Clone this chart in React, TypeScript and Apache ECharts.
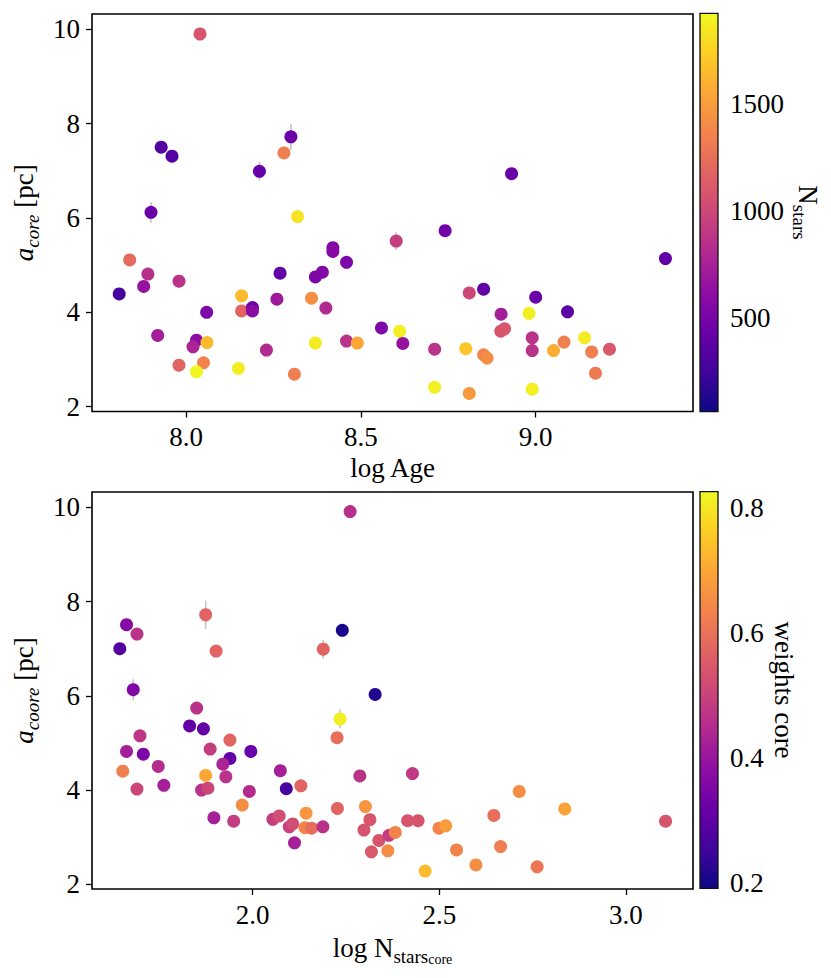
import React, { useEffect, useRef } from "react";
import * as echarts from "echarts";

// ---------- Top panel: log Age vs a_core, coloured by N_stars ----------
const ageLogAge = [
  8.040, 8.300, 7.929, 7.960, 8.280, 8.210, 7.900, 8.319, 8.420, 8.420,
  8.459, 7.839, 7.891, 7.879, 7.980, 7.809, 8.269, 8.370, 8.390, 8.159,
  8.159, 8.190, 8.190, 8.260, 8.359, 8.400, 8.059, 8.559, 7.919, 8.030,
  8.020, 8.060, 8.370, 8.459, 8.490, 8.230, 7.980, 8.050, 8.030, 8.150,
  8.310, 8.601, 8.931, 8.741, 9.371, 8.810, 8.851, 9.000, 9.091, 8.901,
  8.981, 8.611, 8.620, 8.900, 8.911, 8.990, 8.990, 8.711, 8.800, 8.851,
  8.861, 9.051, 9.081, 9.140, 9.160, 9.211, 9.171, 8.711, 8.810, 8.990,
];
const ageACore = [
  9.90, 7.72, 7.50, 7.31, 7.38, 6.99, 6.12, 6.03, 5.37, 5.29,
  5.06, 5.11, 4.81, 4.55, 4.66, 4.39, 4.83, 4.75, 4.85, 4.35,
  4.03, 4.10, 4.03, 4.28, 4.30, 4.09, 4.00, 3.67, 3.51, 3.41,
  3.27, 3.36, 3.35, 3.39, 3.35, 3.20, 2.88, 2.93, 2.74, 2.81,
  2.69, 5.51, 6.94, 5.73, 5.14, 4.41, 4.49, 4.32, 4.01, 3.96,
  3.98, 3.60, 3.34, 3.60, 3.65, 3.46, 3.19, 3.22, 3.23, 3.10,
  3.03, 3.19, 3.37, 3.46, 3.16, 3.22, 2.71, 2.41, 2.28, 2.37,
];
const ageNstars = [
  1088, 436, 343, 343, 1330, 418, 436, 1832, 548, 585,
  529, 1218, 846, 660, 864, 287, 399, 529, 548, 1646,
  1181, 436, 604, 697, 1423, 808, 529, 548, 734, 622,
  771, 1646, 1869, 864, 1553, 808, 1181, 1367, 1906, 1888,
  1330, 939, 436, 473, 399, 994, 399, 436, 362, 734,
  1888, 1888, 660, 1088, 1088, 864, 864, 864, 1702, 1367,
  1423, 1590, 1330, 1869, 1330, 1106, 1311, 1888, 1478, 1888,
];
const ageErr = [
  0, 0.28, 0, 0, 0, 0.2, 0.22, 0, 0, 0.12,
  0, 0, 0, 0, 0, 0, 0, 0, 0, 0,
  0, 0, 0, 0, 0, 0, 0, 0, 0, 0,
  0, 0, 0, 0, 0, 0, 0, 0, 0, 0,
  0, 0.19, 0, 0, 0, 0, 0, 0, 0, 0,
  0, 0, 0, 0, 0, 0, 0, 0, 0, 0,
  0, 0, 0, 0, 0, 0, 0, 0, 0, 0,
];

// ---------- Bottom panel: log N_stars_core vs a_core, coloured by weights core ----------
const coreLogN = [
  2.261, 1.874, 1.662, 1.690, 1.644, 1.902, 2.240, 2.189, 1.680, 2.328,
  2.234, 2.226, 1.850, 1.831, 1.868, 1.698, 1.662, 1.707, 1.747, 1.652,
  1.690, 1.762, 1.939, 1.886, 1.995, 1.939, 1.920, 1.928, 1.874, 1.863,
  1.880, 1.991, 2.074, 2.090, 2.129, 1.972, 1.896, 1.949, 2.054, 2.071,
  2.098, 2.107, 2.143, 2.140, 2.158, 2.188, 2.112, 2.227, 2.287, 2.302,
  2.314, 2.298, 2.338, 2.318, 2.365, 2.362, 2.428, 2.415, 2.443, 2.382,
  2.499, 2.517, 2.546, 2.598, 2.462, 2.646, 2.714, 2.664, 2.762, 2.836,
  3.106,
];
const coreACore = [
  9.91, 7.72, 7.51, 7.31, 7.00, 6.95, 7.39, 6.99, 6.13, 6.03,
  5.51, 5.11, 5.74, 5.36, 5.30, 5.15, 4.82, 4.76, 4.50, 4.40,
  4.02, 4.10, 5.06, 4.87, 4.82, 4.67, 4.55, 4.28, 4.31, 4.00,
  4.04, 3.97, 4.41, 4.03, 4.09, 3.68, 3.41, 3.34, 3.38, 3.45,
  3.22, 3.28, 3.51, 3.20, 3.19, 3.22, 2.88, 3.61, 4.30, 3.65,
  3.37, 3.15, 2.93, 2.69, 3.04, 2.71, 4.35, 3.35, 3.35, 3.10,
  3.19, 3.24, 2.73, 2.41, 2.28, 3.46, 3.97, 2.80, 2.37, 3.60,
  3.34,
];
const coreWeights = [
  0.458, 0.572, 0.369, 0.464, 0.286, 0.572, 0.204, 0.572, 0.356, 0.216,
  0.813, 0.591, 0.464, 0.305, 0.305, 0.470, 0.420, 0.350, 0.451, 0.623,
  0.508, 0.420, 0.572, 0.489, 0.318, 0.305, 0.432, 0.464, 0.699, 0.464,
  0.508, 0.451, 0.420, 0.267, 0.572, 0.655, 0.420, 0.489, 0.489, 0.521,
  0.496, 0.521, 0.667, 0.636, 0.591, 0.464, 0.420, 0.572, 0.464, 0.667,
  0.540, 0.540, 0.540, 0.547, 0.489, 0.655, 0.477, 0.540, 0.540, 0.636,
  0.636, 0.680, 0.636, 0.655, 0.731, 0.591, 0.655, 0.623, 0.610, 0.693,
  0.540,
];
const coreErr = [
  0, 0.3, 0, 0, 0, 0, 0, 0.2, 0.22, 0,
  0.2, 0, 0, 0, 0.15, 0, 0, 0, 0, 0,
  0, 0, 0, 0, 0, 0, 0, 0, 0, 0,
  0, 0, 0, 0, 0, 0, 0, 0, 0, 0,
  0, 0, 0, 0, 0, 0, 0, 0, 0, 0,
  0, 0, 0, 0, 0, 0, 0, 0, 0, 0,
  0, 0, 0, 0, 0, 0, 0, 0, 0, 0,
  0,
];

// ---------- ticks / ranges ----------
const aTicks = [2, 4, 6, 8, 10];
const ageTicks = [8.0, 8.5, 9.0];
const nTicks = [2.0, 2.5, 3.0];
const nstarsTicks = [500, 1000, 1500];
const weightTicks = [0.2, 0.4, 0.6, 0.8];
const nstarsRange = [64, 1925];
const weightRange = [0.191, 0.826];

const PLASMA = [
  "#0d0887", "#41049d", "#6a00a8", "#8f0da4", "#b12a90", "#cc4778",
  "#e16462", "#f2844b", "#fca636", "#fcce25", "#f0f921",
];

const FONT = "'Liberation Serif', 'Times New Roman', serif";
const base = { fontFamily: FONT, color: "#000" };
const rich = {
  m: { ...base, fontSize: 27, lineHeight: 36 },
  i: { ...base, fontSize: 27, lineHeight: 36, fontStyle: "italic" },
  si: { ...base, fontSize: 19, lineHeight: 20, verticalAlign: "bottom", fontStyle: "italic" },
  s: { ...base, fontSize: 19, lineHeight: 20, verticalAlign: "bottom" },
  c: { ...base, fontSize: 14, lineHeight: 10, verticalAlign: "bottom" },
};

function errRender(params: any, api: any) {
  const x = api.value(0);
  const y = api.value(1);
  const e = api.value(2);
  if (!e) return null;
  const p1 = api.coord([x, y - e]);
  const p2 = api.coord([x, y + e]);
  return {
    type: "line",
    shape: { x1: p1[0], y1: p1[1], x2: p2[0], y2: p2[1] },
    style: { stroke: "#c4c4c4", lineWidth: 1.6 },
  };
}

function colorbarRender(params: any) {
  const cs = params.coordSys;
  const stops = PLASMA.map((c, i) => ({ offset: i / (PLASMA.length - 1), color: c }));
  return {
    type: "rect",
    shape: { x: cs.x, y: cs.y, width: cs.width, height: cs.height },
    style: {
      fill: new echarts.graphic.LinearGradient(0, 1, 0, 0, stops),
      stroke: "#111",
      lineWidth: 1.3,
    },
  };
}

function mainX(idx: number, min: number, max: number, ticks: number[], name: string, gap: number) {
  return {
    gridIndex: idx,
    type: "value",
    min,
    max,
    name,
    nameLocation: "middle",
    nameGap: gap,
    nameTextStyle: { ...base, fontSize: 27, rich },
    axisLine: { show: false },
    splitLine: { show: false },
    axisTick: { show: true, inside: false, length: 6, lineStyle: { color: "#000", width: 1.3 }, customValues: ticks },
    axisLabel: {
      customValues: ticks,
      formatter: (v: number) => v.toFixed(1),
      ...base,
      fontSize: 27,
      margin: 12,
    },
  };
}

function mainY(idx: number, name: string) {
  return {
    gridIndex: idx,
    type: "value",
    min: idx === 0 ? 1.898 : 1.9,
    max: idx === 0 ? 10.324 : 10.325,
    name,
    nameLocation: "middle",
    nameGap: 44,
    nameTextStyle: { ...base, fontSize: 27, rich },
    axisLine: { show: false },
    splitLine: { show: false },
    axisTick: { show: true, inside: false, length: 6, lineStyle: { color: "#000", width: 1.3 }, customValues: aTicks },
    axisLabel: {
      customValues: aTicks,
      formatter: (v: number) => String(v),
      ...base,
      fontSize: 27,
      margin: 12,
    },
  };
}

function cbY(idx: number, range: number[], ticks: number[], name: string, gap: number, fmt: (v: number) => string) {
  return {
    gridIndex: idx,
    type: "value",
    position: "right",
    min: range[0],
    max: range[1],
    name,
    nameLocation: "middle",
    nameRotate: -90,
    nameGap: gap,
    nameTextStyle: { ...base, fontSize: 27, rich },
    axisLine: { show: false },
    splitLine: { show: false },
    axisTick: { show: true, inside: false, length: 6, lineStyle: { color: "#000", width: 1.3 }, customValues: ticks },
    axisLabel: { customValues: ticks, formatter: fmt, ...base, fontSize: 27, margin: 12 },
  };
}

export default function App() {
  const ref = useRef<HTMLDivElement>(null);

  useEffect(() => {
    document.body.style.margin = "0";
    const chart = echarts.init(ref.current!, null, { renderer: "svg" });

    const topPts = ageLogAge.map((x, i) => [x, ageACore[i], ageNstars[i]]);
    const topErr = ageLogAge.map((x, i) => [x, ageACore[i], ageErr[i]]).filter((d) => d[2] > 0);
    const botPts = coreLogN.map((x, i) => [x, coreACore[i], coreWeights[i]]);
    const botErr = coreLogN.map((x, i) => [x, coreACore[i], coreErr[i]]).filter((d) => d[2] > 0);

    const border = { show: true, borderColor: "#000", borderWidth: 1.6, backgroundColor: "transparent" };

    chart.setOption({
      animation: false,
      grid: [
        { left: 92, top: 14, width: 601, height: 397.5, ...border },
        { left: 92, top: 492, width: 601, height: 397, ...border },
        { left: 700, top: 13.3, width: 18, height: 398.4, show: false },
        { left: 700, top: 491.7, width: 18, height: 396.6, show: false },
      ],
      xAxis: [
        mainX(0, 7.7312, 9.4498, ageTicks, "log Age", 43),
        mainX(1, 1.5695, 3.1795, nTicks, "{m|log N}{s|stars}{c|core}", 41),
        { gridIndex: 2, type: "value", min: 0, max: 1, show: false },
        { gridIndex: 3, type: "value", min: 0, max: 1, show: false },
      ],
      yAxis: [
        mainY(0, "{i|a}{si|core}{m| [pc]}"),
        mainY(1, "{i|a}{si|coore}{m| [pc]}"),
        cbY(2, nstarsRange, nstarsTicks, "{m|N}{s|stars}", 72, (v) => String(v)),
        cbY(3, weightRange, weightTicks, "weights core", 52, (v) => v.toFixed(1)),
      ],
      visualMap: [
        { type: "continuous", show: false, seriesIndex: 1, dimension: 2, min: nstarsRange[0], max: nstarsRange[1], inRange: { color: PLASMA } },
        { type: "continuous", show: false, seriesIndex: 3, dimension: 2, min: weightRange[0], max: weightRange[1], inRange: { color: PLASMA } },
      ],
      series: [
        { type: "custom", xAxisIndex: 0, yAxisIndex: 0, renderItem: errRender, data: topErr, silent: true, z: 1 },
        { type: "scatter", xAxisIndex: 0, yAxisIndex: 0, data: topPts, symbolSize: 13, itemStyle: { opacity: 1 }, silent: true, z: 2 },
        { type: "custom", xAxisIndex: 1, yAxisIndex: 1, renderItem: errRender, data: botErr, silent: true, z: 1 },
        { type: "scatter", xAxisIndex: 1, yAxisIndex: 1, data: botPts, symbolSize: 13, itemStyle: { opacity: 1 }, silent: true, z: 2 },
        { type: "custom", xAxisIndex: 2, yAxisIndex: 2, renderItem: colorbarRender, data: [[0.5, 1000]], silent: true },
        { type: "custom", xAxisIndex: 3, yAxisIndex: 3, renderItem: colorbarRender, data: [[0.5, 0.5]], silent: true },
      ],
    });

    return () => chart.dispose();
  }, []);

  return <div ref={ref} style={{ width: 831, height: 978 }} />;
}
